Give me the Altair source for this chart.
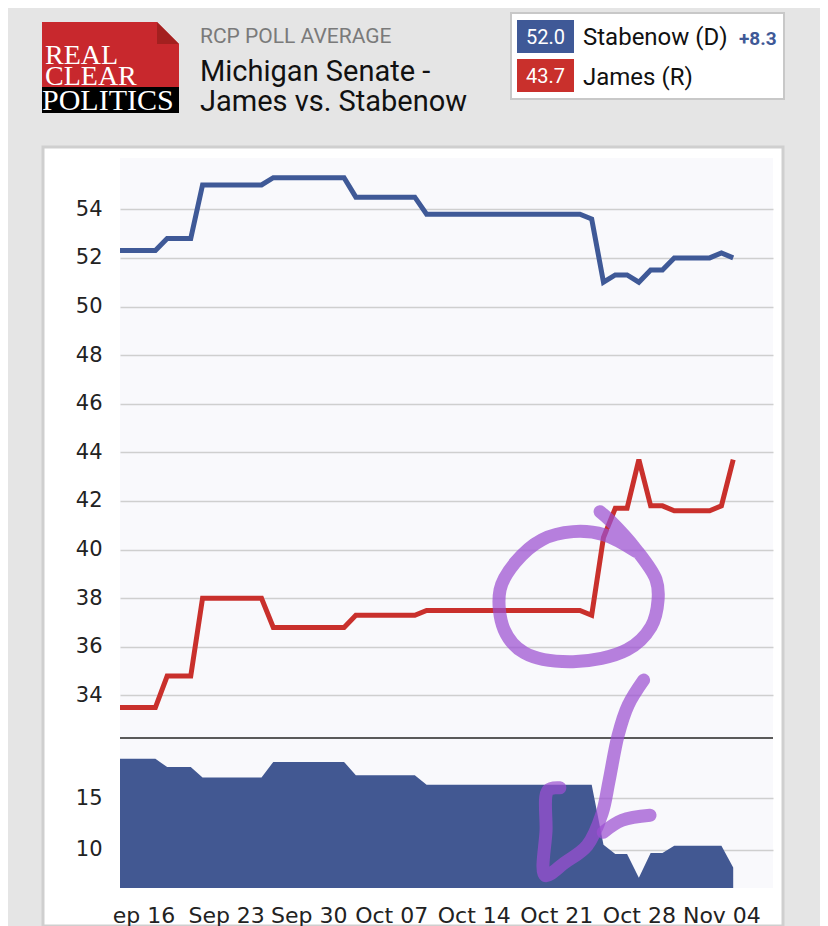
import altair as alt
import pandas as pd

# ---------------- data ----------------
start_date = "2018-09-14"
stabenow = [52.3, 52.3, 52.3, 52.3, 52.8, 52.8, 52.8,
            55.0, 55.0, 55.0, 55.0, 55.0, 55.0,
            55.3, 55.3, 55.3, 55.3, 55.3, 55.3, 55.3,
            54.5, 54.5, 54.5, 54.5, 54.5, 54.5,
            53.8, 53.8, 53.8, 53.8, 53.8, 53.8, 53.8, 53.8, 53.8, 53.8, 53.8, 53.8, 53.8, 53.8,
            53.6, 51.0, 51.3, 51.3, 51.0, 51.5, 51.5, 52.0, 52.0, 52.0, 52.0, 52.2, 52.0]
james = [33.5, 33.5, 33.5, 33.5, 34.8, 34.8, 34.8,
         38.0, 38.0, 38.0, 38.0, 38.0, 38.0,
         36.8, 36.8, 36.8, 36.8, 36.8, 36.8, 36.8,
         37.3, 37.3, 37.3, 37.3, 37.3, 37.3,
         37.5, 37.5, 37.5, 37.5, 37.5, 37.5, 37.5, 37.5, 37.5, 37.5, 37.5, 37.5, 37.5, 37.5,
         37.3, 40.5, 41.7, 41.7, 43.7, 41.8, 41.8, 41.6, 41.6, 41.6, 41.6, 41.8, 43.7]
candidates = ["Stabenow (D)", "James (R)"]
tick_dates = [(9, 16), (9, 23), (9, 30), (10, 7), (10, 14), (10, 21), (10, 28), (11, 4)]
main_ticks = [34, 36, 38, 40, 42, 44, 46, 48, 50, 52, 54]
spread_ticks = [10, 15]

# hand-drawn annotation strokes (day offset from start, value)
circle_day = [40.71, 41.48, 43.77, 45.46, 45.63, 45.04, 43.00, 38.42, 34.27, 32.57,
              32.23, 33.50, 35.79, 38.42, 41.05, 43.77]
circle_val = [41.56, 41.23, 40.00, 38.76, 37.94, 36.83, 35.88, 35.39, 35.76, 36.71,
              38.35, 39.46, 40.41, 40.74, 40.61, 39.92]
check_day = [37.3, 36.3, 36.13, 36.05, 37.74, 39.61, 40.88, 41.48, 42.24, 43.09, 44.4]
check_val = [16.0, 15.76, 11.89, 7.53, 8.79, 10.42, 13.52, 16.71, 21.07, 23.98, 26.40]
flick_day = [40.97, 42.58, 44.95]
flick_val = [11.70, 12.86, 13.34]

BLUE = "#3f5997"
RED = "#c9302c"
PURPLE = "#9b4fd1"
FMT = "%Y-%m-%dT%H:%M:%S"

base = pd.Timestamp(start_date)
dates = pd.date_range(start_date, periods=len(stabenow), freq="D").strftime(FMT)

lines_df = pd.concat([
    pd.DataFrame({"date": dates, "value": stabenow, "cand": candidates[0]}),
    pd.DataFrame({"date": dates, "value": james, "cand": candidates[1]}),
])
spread_df = pd.DataFrame({"date": dates,
                          "value": [round(d - r, 1) for d, r in zip(stabenow, james)]})


def to_dates(days):
    return [(base + pd.to_timedelta(d, unit="D")).strftime(FMT) for d in days]


circle_df = pd.DataFrame({"date": to_dates(circle_day), "value": circle_val,
                          "i": list(range(len(circle_day))), "s": "c"})
check_df = pd.concat([
    pd.DataFrame({"date": to_dates(check_day), "value": check_val,
                  "i": list(range(len(check_day))), "s": "v"}),
    pd.DataFrame({"date": to_dates(flick_day), "value": flick_val,
                  "i": list(range(len(flick_day))), "s": "f"}),
])

# ---------------- layout constants ----------------
W = 653
H_HEAD = 150
H_MAIN = 580
H_LOW = 150
OX, OY = 120, 8  # page position of header view origin

xscale = alt.Scale(domain=[alt.DateTime(year=2018, month=9, date=14),
                           alt.DateTime(year=2018, month=11, date=8, hours=9)],
                   nice=False)

LABEL = dict(labelFont="DejaVu Sans", labelFontSize=21, labelColor="#222222")

# ---------------- header ----------------
hdr = pd.DataFrame({"k": [0]})


def box(x1, x2, y1, y2, **kw):
    return alt.Chart(hdr).mark_rect(**kw).encode(
        x=alt.value(x1 - OX), x2=alt.value(x2 - OX),
        y=alt.value(y1 - OY), y2=alt.value(y2 - OY))


def txt(s, x, y, **kw):
    return alt.Chart(hdr).mark_text(baseline="alphabetic", **kw).encode(
        x=alt.value(x - OX), y=alt.value(y - OY), text=alt.value(s))


def tri(path, cx, cy, size, color):
    return alt.Chart(hdr).mark_point(shape=path, filled=True, size=size, color=color,
                                     opacity=1, strokeWidth=0).encode(
        x=alt.value(cx - OX), y=alt.value(cy - OY))


header = alt.layer(
    box(8, 820, 8, 160, color="#e5e5e5"),
    box(43, 783, 147, 926, fill="#ffffff", stroke="#cfcfcf", strokeWidth=3),
    box(42, 179, 22, 87, color="#c8282d"),
    box(42, 179, 87, 113, color="#000000"),
    tri("M -1 -1 L 1 -1 L 1 1 Z", 168, 33, 484, "#e5e5e5"),
    tri("M -1 -1 L 1 1 L -1 1 Z", 168, 33, 484, "#a3201f"),
    txt("REAL", 45, 64, font="Liberation Serif", fontSize=28, color="#ffffff", align="left"),
    txt("CLEAR", 45, 85, font="Liberation Serif", fontSize=28, color="#ffffff", align="left"),
    txt("POLITICS", 42, 110, font="Liberation Serif", fontSize=30, color="#ffffff", align="left"),
    txt("RCP POLL AVERAGE", 200, 43, font="Roboto", fontSize=21, color="#7a7a7a", align="left"),
    txt("Michigan Senate -", 200, 81, font="Roboto", fontSize=29, color="#111111", align="left"),
    txt("James vs. Stabenow", 200, 111, font="Roboto", fontSize=29, color="#111111", align="left"),
    box(511, 784, 13, 99, fill="#ffffff", stroke="#c8c8c8", strokeWidth=2),
    box(517, 574, 20, 53, color=BLUE),
    txt("52.0", 545.5, 44, font="Roboto", fontSize=20, color="#ffffff", align="center"),
    txt("Stabenow (D)", 583, 45, font="Roboto", fontSize=24, color="#111111", align="left"),
    txt("+8.3", 739, 45, font="Roboto", fontSize=19, fontWeight="bold", color=BLUE, align="left"),
    box(517, 574, 59, 92, color=RED),
    txt("43.7", 545.5, 83, font="Roboto", fontSize=20, color="#ffffff", align="center"),
    txt("James (R)", 583, 85, font="Roboto", fontSize=24, color="#111111", align="left"),
).properties(width=W, height=H_HEAD,
             view=alt.ViewBackground(fill="transparent", stroke="transparent"))

# ---------------- main panel ----------------
main_x = alt.X("date:T", scale=xscale, axis=None)
main_y = alt.Y("value:Q",
               scale=alt.Scale(domain=[32.25, 56.11], nice=False, zero=False),
               axis=alt.Axis(values=main_ticks, format="d", title=None, ticks=False,
                             domain=False, labelPadding=18, gridColor="#cfcfcf",
                             gridWidth=1.6, **LABEL))

lines = alt.Chart(lines_df).mark_line(strokeWidth=5).encode(
    x=main_x, y=main_y,
    color=alt.Color("cand:N", scale=alt.Scale(domain=candidates, range=[BLUE, RED]),
                    legend=None),
)
circle = alt.Chart(circle_df).mark_line(color=PURPLE, opacity=0.72, strokeWidth=13,
                                        strokeCap="round", strokeJoin="round",
                                        interpolate="catmull-rom").encode(
    x=main_x, y=main_y, detail="s:N", order=alt.Order("i:Q"))

main = alt.layer(lines, circle).properties(
    width=W, height=H_MAIN,
    view=alt.ViewBackground(fill="#f9f9fc", stroke="transparent"))

# ---------------- spread panel ----------------
low_x = alt.X("date:T", scale=xscale,
              axis=alt.Axis(values=[alt.DateTime(year=2018, month=m, date=d) for m, d in tick_dates],
                            format="%b %d",
                            labelExpr="datum.label == 'Sep 16' ? 'ep 16' : datum.label",
                            title=None, ticks=False, domain=False, grid=False,
                            labelFlush=False, labelOverlap=False, labelPadding=17,
                            labelFont="DejaVu Sans", labelFontSize=22, labelColor="#222222"))
low_y = alt.Y("value:Q", stack=None,
              scale=alt.Scale(domain=[6.32, 20.81], nice=False, zero=False),
              axis=alt.Axis(values=spread_ticks, format="d", title=None, ticks=False,
                            domain=False, labelPadding=18, gridColor="#cfcfcf",
                            gridWidth=1.6, **LABEL))

area = alt.Chart(spread_df).mark_area(color="#425892", opacity=1).encode(
    x=low_x, y=low_y, y2=alt.value(H_LOW))
sep = alt.Chart(hdr).mark_rule(color="#5a5a5a", strokeWidth=2).encode(
    x=alt.value(0), x2=alt.value(W), y=alt.value(0))
check = alt.Chart(check_df).mark_line(color=PURPLE, opacity=0.72, strokeWidth=13,
                                      strokeCap="round", strokeJoin="round",
                                      interpolate="catmull-rom").encode(
    x=low_x, y=low_y, detail="s:N", order=alt.Order("i:Q"))

lower = alt.layer(area, sep, check).properties(
    width=W, height=H_LOW,
    view=alt.ViewBackground(fill="#f9f9fc", stroke="transparent"))

chart = alt.vconcat(header, main, lower, spacing=0, bounds="flush").properties(
    padding=0, background="#e5e5e5"
).configure_view(strokeWidth=0)

chart.save("out.html", embed_options={"renderer": "svg", "actions": False})
